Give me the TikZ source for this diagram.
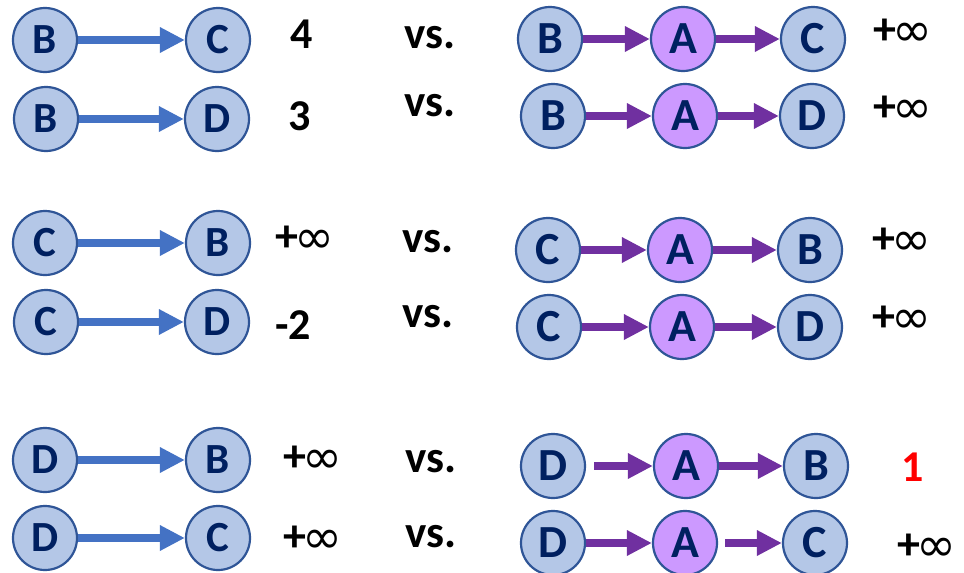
\documentclass[tikz,border=0pt]{standalone}
\usepackage{fontspec}
\setmainfont{Carlito}
\newfontfamily\symfont{DejaVu Sans}
\usetikzlibrary{arrows.meta}
\definecolor{nodeblue}{HTML}{B4C7E7}
\definecolor{nodeedge}{HTML}{2F5597}
\definecolor{navy}{HTML}{002060}
\definecolor{arrblue}{HTML}{4472C4}
\definecolor{nodepurple}{HTML}{CC99FF}
\definecolor{arrpurple}{HTML}{7030A0}
\tikzset{
  vb/.style={circle, minimum size=64pt, inner sep=0pt, fill=nodeblue, draw=nodeedge, line width=2.2pt, text=navy, font=\fontsize{43}{43}\selectfont\bfseries},
  vbr/.style={vb, font=\fontsize{46}{46}\selectfont\bfseries},
  va/.style={vbr, fill=nodepurple},
  eb/.style={draw=arrblue, line width=7.5pt, -{Triangle[length=25pt,width=24pt]}},
  ep/.style={eb, draw=arrpurple},
  val/.style={font=\fontsize{44}{44}\selectfont\bfseries, anchor=center},
  vsl/.style={font=\fontsize{45}{45}\selectfont\bfseries},
  inf/.style={font=\fontsize{46}{46}\selectfont\bfseries},
}
\newcommand{\pinf}{+\kern-3pt\raisebox{-2pt}{\mdseries\symfont\fontsize{48}{48}\selectfont ∞}}
\begin{document}
\begin{tikzpicture}[x=1pt,y=-1pt]
\path[use as bounding box, fill=white] (0,0) rectangle (964,573);
% row 1
\node[vb] (l1a) at (45,40) {B};
\node[vb] (l1b) at (218,40) {C};
\draw[eb] (l1a) -- (l1b);
\node[val] (n1) at (302,34) {4};
\node[vsl] (vs1) at (430,38) {vs.};
\node[vbr] (r1a) at (550,39) {B};
\node[va] (r1b) at (683,39) {A};
\node[vbr] (r1c) at (813,39) {C};
\draw[ep] (r1a) -- (r1b);
\draw[ep] (r1b) -- (r1c);
\node[inf] (i1) at (903,33) {\pinf};
% row 2
\node[vb] (l2a) at (46,119) {B};
\node[vb] (l2b) at (217,119) {D};
\draw[eb] (l2a) -- (l2b);
\node[val] (n2) at (300,116) {3};
\node[vsl] (vs2) at (430,106) {vs.};
\node[vbr] (r2a) at (553,116) {B};
\node[va] (r2b) at (685,116) {A};
\node[vbr] (r2c) at (812,116) {D};
\draw[ep] (r2a) -- (r2b);
\draw[ep] (r2b) -- (r2c);
\node[inf] (i2) at (903,110) {\pinf};
% row 3
\node[vb] (l3a) at (45,243) {C};
\node[vb] (l3b) at (218,243) {B};
\draw[eb] (l3a) -- (l3b);
\node[inf] (n3) at (305,240) {\pinf};
\node[vsl] (vs3) at (428,242) {vs.};
\node[vbr] (r3a) at (548,250) {C};
\node[va] (r3b) at (680,250) {A};
\node[vbr] (r3c) at (810,250) {B};
\draw[ep] (r3a) -- (r3b);
\draw[ep] (r3b) -- (r3c);
\node[inf] (i3) at (902,242) {\pinf};
% row 4
\node[vb] (l4a) at (46,322) {C};
\node[vb] (l4b) at (217,322) {D};
\draw[eb] (l4a) -- (l4b);
\node[val] (n4) at (293,325) {-2};
\node[vsl] (vs4) at (428,317) {vs.};
\node[vbr] (r4a) at (549,327) {C};
\node[va] (r4b) at (682,327) {A};
\node[vbr] (r4c) at (810,327) {D};
\draw[ep] (r4a) -- (r4b);
\draw[ep] (r4b) -- (r4c);
\node[inf] (i4) at (902,320) {\pinf};
% row 5
\node[vb] (l5a) at (45,460) {D};
\node[vb] (l5b) at (218,460) {B};
\draw[eb] (l5a) -- (l5b);
\node[inf] (n5) at (313,460) {\pinf};
\node[vsl] (vs5) at (431,462) {vs.};
\node[vbr] (r5a) at (553,466) {D};
\node[va] (r5b) at (686,466) {A};
\node[vbr] (r5c) at (816,466) {B};
\draw[ep, shorten <=8pt] (r5a) -- (r5b);
\draw[ep] (r5b) -- (r5c);
\node[val, text=red] (n5r) at (913,467) {1};
% row 6
\node[vb] (l6a) at (45,538) {D};
\node[vb] (l6b) at (218,538) {C};
\draw[eb] (l6a) -- (l6b);
\node[inf] (n6) at (313,540) {\pinf};
\node[vsl] (vs6) at (431,537) {vs.};
\node[vbr] (r6a) at (553,543) {D};
\node[va] (r6b) at (685,543) {A};
\node[vbr] (r6c) at (815,543) {C};
\draw[ep] (r6a) -- (r6b);
\draw[ep, shorten <=7pt] (r6b) -- (r6c);
\node[inf] (i6) at (927,548) {\pinf};
\end{tikzpicture}
\end{document}
